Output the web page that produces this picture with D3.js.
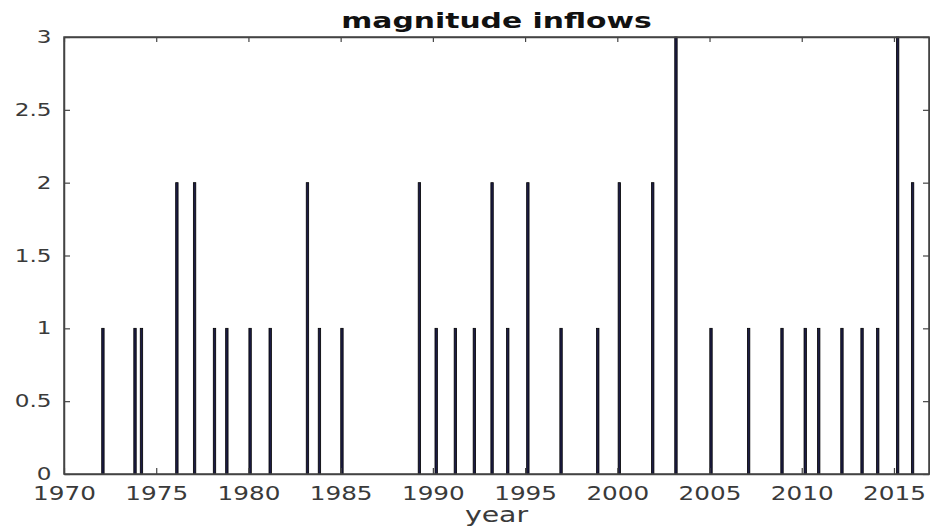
<!DOCTYPE html>
<html>
<head>
<meta charset="utf-8">
<script src="https://cdn.jsdelivr.net/npm/d3@7"></script>
<style>
    body { margin: 0; background: #fff; }
    text { font-family: "DejaVu Sans", sans-serif; fill: #3a3a3a; }
</style>
</head>
<body>
<div id="chart"></div>
<script>
// event dates (decimal years) and magnitudes
const years = [1972.11, 1973.85, 1974.20, 1976.12, 1977.08, 1978.16, 1978.83, 1980.09, 1981.18,
    1983.20, 1983.85, 1985.07, 1989.27, 1990.18, 1991.22, 1992.25, 1993.21, 1994.06, 1995.15,
    1996.95, 1998.94, 2000.11, 2001.92, 2003.18, 2005.08, 2007.12, 2008.93, 2010.19, 2010.92,
    2012.18, 2013.27, 2014.12, 2015.20, 2016.01];
const magnitudes = [1, 1, 1, 2, 2, 1, 1, 1, 1,
    2, 1, 1, 2, 1, 1, 1, 2, 1, 2,
    1, 1, 2, 2, 3, 1, 1, 1, 1, 1,
    1, 1, 1, 3, 2];
const xTicks = [1970, 1975, 1980, 1985, 1990, 1995, 2000, 2005, 2010, 2015];
const yTicks = [0, 0.5, 1, 1.5, 2, 2.5, 3];

const data = years.map((y, i) => ({year: y, value: magnitudes[i]}));

let margin = {top: 37, right: 1, bottom: 55, left: 64};
let width = 930 - margin.left - margin.right;
let height = 529 - margin.top - margin.bottom;

let svg = d3.select("#chart").append("svg")
    .attr("width", 930)
    .attr("height", 529)
    .append("g")
    .attr("transform", "translate(" + margin.left + "," + margin.top + ")");

// scales
let x = d3.scaleLinear().domain([1970, 2016.9]).range([0, width]);
let y = d3.scaleLinear().domain([0, 3]).range([height, 0]);

// bars
svg.append("g").selectAll("rect")
    .data(data)
    .enter()
    .append("rect")
    .attr("x", d => x(d.year) - 1.2)
    .attr("y", d => y(d.value))
    .attr("width", 2.4)
    .attr("height", d => y(0) - y(d.value))
    .attr("fill", "#1c1c44")
    .attr("stroke", "#000")
    .attr("stroke-width", 0.8);

// axes (ticks pointing inward, box around plot)
let xAxis = d3.axisBottom(x).tickValues(xTicks).tickSizeInner(-6).tickSizeOuter(0).tickFormat(d3.format("d"));
let yAxis = d3.axisLeft(y).tickValues(yTicks).tickSizeInner(-6).tickSizeOuter(0).tickFormat(d => d);

let gx = svg.append("g")
    .attr("transform", "translate(0," + height + ")")
    .call(xAxis);
gx.selectAll("text")
    .attr("y", 26)
    .attr("dy", 0)
    .attr("transform", "scale(1.3,1)")
    .style("font-size", "19px");

let gy = svg.append("g").call(yAxis);
gy.selectAll("text")
    .attr("x", -10)
    .attr("dy", "0.3em")
    .attr("transform", "scale(1.25,1)")
    .style("font-size", "18.5px");

// mirrored ticks on top and right
svg.append("g").call(d3.axisTop(x).tickValues(xTicks).tickSizeInner(-5).tickSizeOuter(0).tickFormat(""));
svg.append("g").attr("transform", "translate(" + width + ",0)")
    .call(d3.axisRight(y).tickValues(yTicks).tickSizeInner(-6).tickSizeOuter(0).tickFormat(""));

svg.selectAll(".domain").attr("stroke", "#444").attr("stroke-width", 1.5);
svg.selectAll(".tick line").attr("stroke", "#444").attr("stroke-width", 1.2);

svg.append("rect")
    .attr("width", width)
    .attr("height", height)
    .attr("fill", "none")
    .attr("stroke", "#444")
    .attr("stroke-width", 1.5);

// title and x label
svg.append("text")
    .attr("transform", "translate(" + (width / 2) + "," + (-9) + ") scale(1.42,1)")
    .attr("text-anchor", "middle")
    .style("font-size", "21px")
    .style("font-weight", "bold")
    .style("fill", "#111")
    .text("magnitude inflows");

svg.append("text")
    .attr("transform", "translate(" + (width / 2) + "," + (height + 48) + ") scale(1.35,1)")
    .attr("text-anchor", "middle")
    .style("font-size", "21px")
    .text("year");
</script>
</body>
</html>
